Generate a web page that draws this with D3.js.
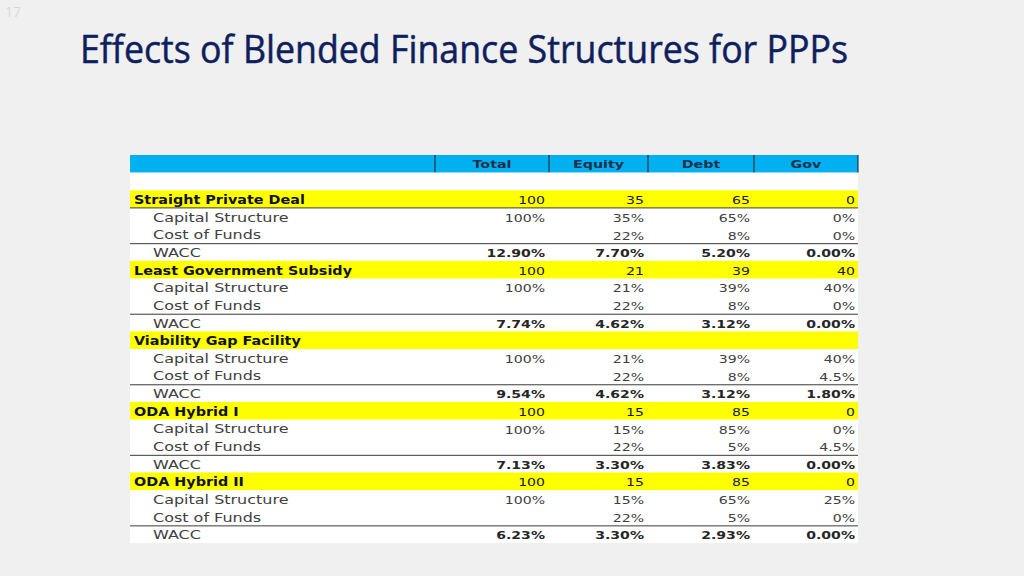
<!DOCTYPE html>
<html>
<head>
<meta charset="utf-8">
<script src="https://cdn.jsdelivr.net/npm/d3@7"></script>
<style>
  html, body { margin: 0; padding: 0; background: #f0f0f0; }
  svg { display: block; }
</style>
</head>
<body>
<script>
// table content
let columns = ['Total', 'Equity', 'Debt', 'Gov']
let sections = ['Straight Private Deal', 'Least Government Subsidy', 'Viability Gap Facility', 'ODA Hybrid I', 'ODA Hybrid II']
let subLabels = ['Capital Structure', 'Cost of Funds', 'WACC']

let amounts = [
  [100, 35, 65, 0],
  [100, 21, 39, 40],
  null,
  [100, 15, 85, 0],
  [100, 15, 85, 0]
]
let capitalStructure = [
  [100, 35, 65, 0],
  [100, 21, 39, 40],
  [100, 21, 39, 40],
  [100, 15, 85, 0],
  [100, 15, 65, 25]
]
let costOfFunds = [
  [null, 22, 8, 0],
  [null, 22, 8, 0],
  [null, 22, 8, 4.5],
  [null, 22, 5, 4.5],
  [null, 22, 5, 0]
]
let wacc = [
  [12.90, 7.70, 5.20, 0.00],
  [7.74, 4.62, 3.12, 0.00],
  [9.54, 4.62, 3.12, 1.80],
  [7.13, 3.30, 3.83, 0.00],
  [6.23, 3.30, 2.93, 0.00]
]

let width = 1024
let height = 576

let svg = d3.select('body').append('svg')
  .attr('width', width)
  .attr('height', height)

svg.append('rect')
  .attr('width', width)
  .attr('height', height)
  .attr('fill', '#f0f0f0')

// slide number + title
svg.append('text')
  .attr('x', 5).attr('y', 17)
  .attr('font-family', 'Open Sans, sans-serif')
  .attr('font-size', 14)
  .attr('fill', '#d9d9d9')
  .text('17')

svg.append('text')
  .attr('x', 80).attr('y', 63)
  .attr('font-family', 'Open Sans, sans-serif')
  .attr('font-size', 38)
  .attr('fill', '#0f1f5e')
  .attr('stroke', '#0f1f5e')
  .attr('stroke-width', 0.5)
  .attr('textLength', 768)
  .attr('lengthAdjust', 'spacingAndGlyphs')
  .text('Effects of Blended Finance Structures for PPPs')

// build rows: blank, then 4 rows per section
let rows = [{ type: 'blank' }]
sections.forEach((s, i) => {
  rows.push({ type: 'section', label: s, values: amounts[i], fmt: d3.format('d'), first: i === 0 })
  rows.push({ type: 'sub', label: subLabels[0], values: capitalStructure[i], fmt: (v) => v + '%' })
  rows.push({ type: 'sub', label: subLabels[1], values: costOfFunds[i], fmt: (v) => v + '%' })
  rows.push({ type: 'wacc', label: subLabels[2], values: wacc[i], fmt: (v) => d3.format('.2f')(v) + '%' })
})

let left = 130, right = 858
let edges = [435, 549, 648, 754, 858]

let y = d3.scaleLinear()
  .domain([0, rows.length + 1])
  .range([155, 543])
let rowH = y(1) - y(0)

let colRight = (j) => edges[j + 1] - (j === 3 ? 3 : 4)
let colMid = (j) => (edges[j] + edges[j + 1]) / 2

let g = svg.append('g')

// header
g.append('rect')
  .attr('x', left).attr('y', y(0))
  .attr('width', right - left).attr('height', rowH)
  .attr('fill', '#00b0f0')

g.selectAll('.vdiv')
  .data(edges)
  .enter().append('line')
  .attr('x1', (d) => d).attr('x2', (d) => d)
  .attr('y1', y(0)).attr('y2', y(1))
  .attr('stroke', '#1a1a1a')
  .attr('stroke-width', 1)

g.selectAll('.head')
  .data(columns)
  .enter().append('text')
  .attr('transform', (d, j) => 'translate(' + [colMid(j), y(0) + 12.5] + ') scale(1.3,1)')
  .attr('text-anchor', 'middle')
  .attr('font-family', 'DejaVu Sans, sans-serif')
  .attr('font-weight', 'bold')
  .attr('font-size', 11)
  .attr('fill', '#14304a')
  .text((d) => d)

// body background
g.append('rect')
  .attr('x', left).attr('y', y(1))
  .attr('width', right - left).attr('height', y(rows.length + 1) - y(1))
  .attr('fill', '#ffffff')

let row = g.selectAll('.row')
  .data(rows)
  .enter().append('g')
  .attr('class', 'row')
  .attr('transform', (d, i) => 'translate(0,' + y(i + 1) + ')')

row.filter((d) => d.type === 'section')
  .append('rect')
  .attr('x', left).attr('width', right - left)
  .attr('height', rowH)
  .attr('fill', '#ffff00')

row.filter((d) => d.type === 'wacc')
  .append('line')
  .attr('x1', left).attr('x2', right)
  .attr('y1', 0.5).attr('y2', 0.5)
  .attr('stroke', '#3a3a3a')

row.filter((d) => d.first)
  .append('line')
  .attr('x1', left).attr('x2', right)
  .attr('y1', rowH).attr('y2', rowH)
  .attr('stroke', '#3a3a3a')

row.filter((d) => d.type !== 'blank')
  .append('text')
  .attr('transform', (d) => d.type === 'section'
    ? 'translate(' + [134, 13.8] + ') scale(1.15,1)'
    : 'translate(' + [153, 13.8] + ') scale(1.28,1)')
  .attr('font-family', 'DejaVu Sans, sans-serif')
  .attr('font-size', 12.5)
  .attr('font-weight', (d) => d.type === 'section' ? 'bold' : 'normal')
  .attr('fill', (d) => d.type === 'section' ? '#111111' : '#404040')
  .text((d) => d.label)

row.filter((d) => d.values)
  .selectAll('.val')
  .data((d) => d.values
    .map((v, j) => ({ v: v, col: j, row: d }))
    .filter((c) => c.v !== null))
  .enter().append('text')
  .attr('transform', (d) => 'translate(' + [colRight(d.col), 14] + ') scale(1.28,1)')
  .attr('text-anchor', 'end')
  .attr('font-family', 'DejaVu Sans, sans-serif')
  .attr('font-size', 11)
  .attr('font-weight', (d) => d.row.type === 'wacc' ? 'bold' : 'normal')
  .attr('fill', (d) => d.row.type === 'section' ? '#1a1a1a' : (d.row.type === 'wacc' ? '#262626' : '#404040'))
  .text((d) => d.row.fmt(d.v))
</script>
</body>
</html>
